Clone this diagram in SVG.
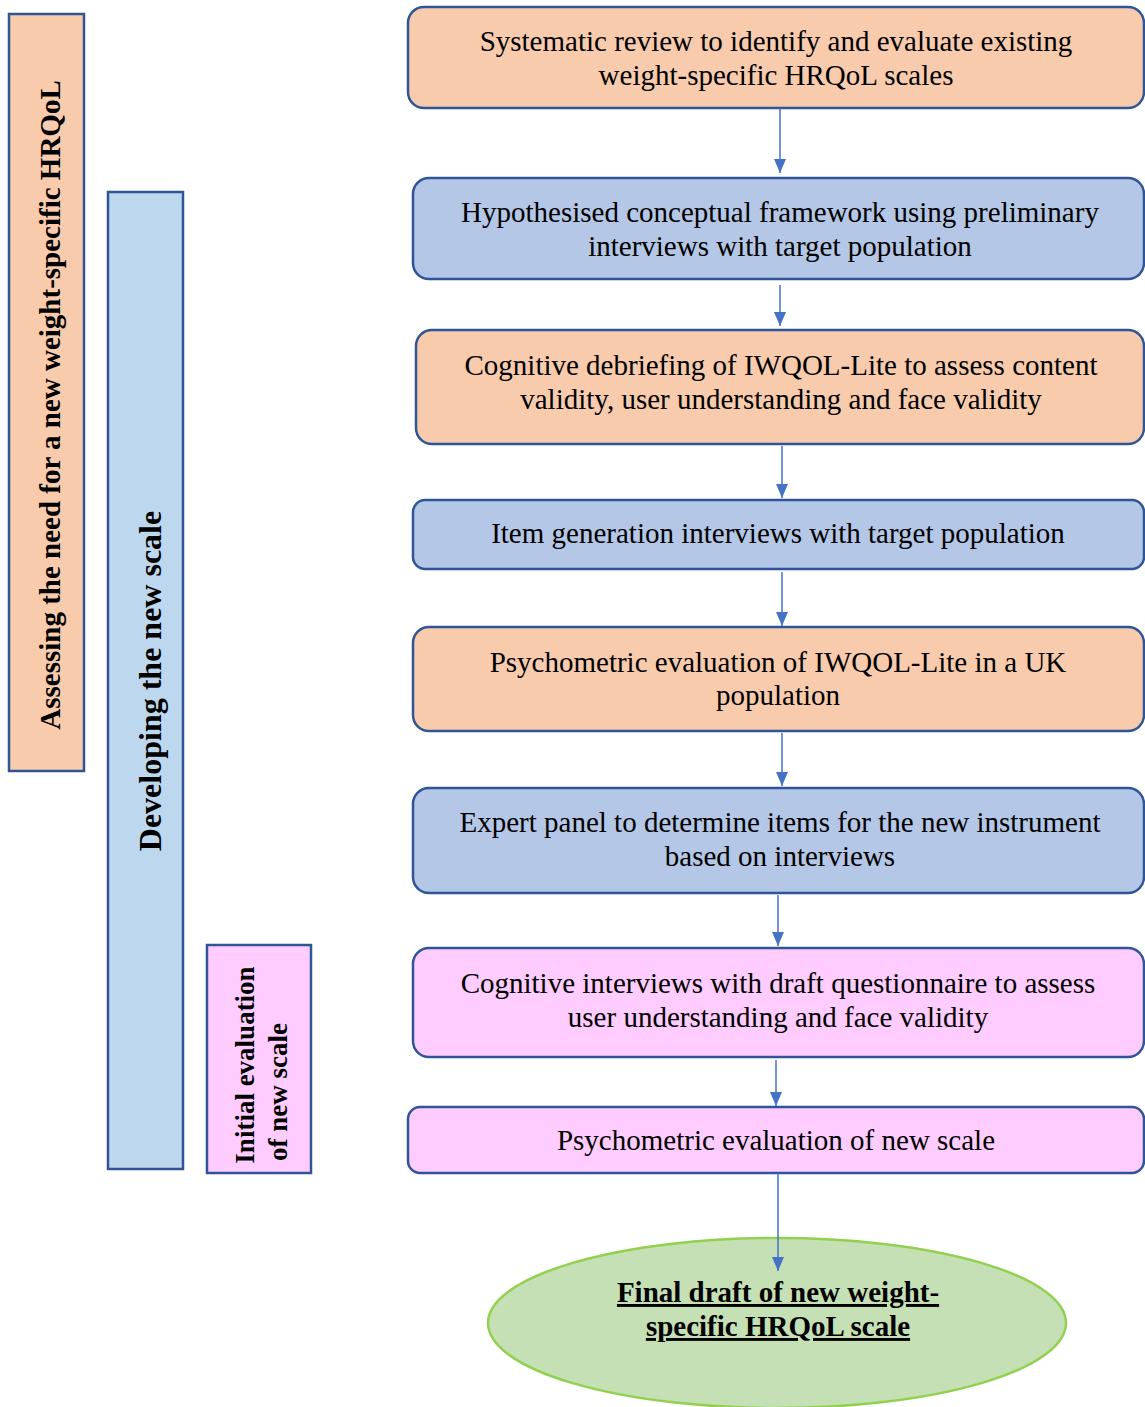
<svg xmlns="http://www.w3.org/2000/svg" width="1145" height="1407" viewBox="0 0 1145 1407">
  <defs>
    <marker id="arrow" viewBox="0 0 14 12" refX="14" refY="6" markerWidth="14" markerHeight="12" markerUnits="userSpaceOnUse" orient="auto">
      <path d="M0,0 L14,6 L0,12 Z" fill="#4472C4"/>
    </marker>
    <style>
      .step { stroke: #2F5597; stroke-width: 2.5; }
      .orange { fill: #F8CBAD; }
      .blue { fill: #B4C7E7; }
      .pink { fill: #FFCCFF; }
      .band { stroke: #2F5597; stroke-width: 2.5; }
      .label { font-family: "Liberation Serif", "Times New Roman", serif; font-size: 29px; fill: #000; text-anchor: middle; }
      .side { font-family: "Liberation Serif", "Times New Roman", serif; font-size: 29px; font-weight: bold; fill: #000; text-anchor: middle; }
      .conn { stroke: #4472C4; stroke-width: 1.5; fill: none; marker-end: url(#arrow); }
    </style>
  </defs>

  <!-- phase bands on the left -->
  <g id="phase-assessing">
    <rect class="band" x="9" y="14" width="75" height="757" fill="#F8CBAD"/>
    <text class="side" transform="translate(60,405) rotate(-90)">Assessing the need for a new weight-specific HRQoL</text>
  </g>
  <g id="phase-developing">
    <rect class="band" x="108" y="192" width="75" height="977" fill="#BDD7EE"/>
    <text class="side" style="font-size:32px" transform="translate(161,681) rotate(-90)">Developing the new scale</text>
  </g>
  <g id="phase-initial">
    <rect class="band" x="207" y="945" width="104" height="228" fill="#FFCCFF"/>
    <text class="side" style="font-size:27px" transform="translate(254,1065) rotate(-90)">Initial evaluation</text>
    <text class="side" style="font-size:27px" transform="translate(287,1092) rotate(-90)">of new scale</text>
  </g>

  <!-- process steps -->
  <g id="step-1">
    <rect class="step orange" x="408" y="7" width="736" height="101" rx="16"/>
    <text class="label" x="776" y="51">Systematic review to identify and evaluate existing</text>
    <text class="label" x="776" y="85">weight-specific HRQoL scales</text>
  </g>
  <g id="step-2">
    <rect class="step blue" x="413" y="178" width="731" height="101" rx="16"/>
    <text class="label" x="780" y="222">Hypothesised conceptual framework using preliminary</text>
    <text class="label" x="780" y="256">interviews with target population</text>
  </g>
  <g id="step-3">
    <rect class="step orange" x="416" y="330" width="728" height="114" rx="16"/>
    <text class="label" x="781" y="375">Cognitive debriefing of IWQOL-Lite to assess content</text>
    <text class="label" x="781" y="409">validity, user understanding and face validity</text>
  </g>
  <g id="step-4">
    <rect class="step blue" x="413" y="500" width="731" height="69" rx="12"/>
    <text class="label" x="778" y="543">Item generation interviews with target population</text>
  </g>
  <g id="step-5">
    <rect class="step orange" x="413" y="627" width="731" height="104" rx="16"/>
    <text class="label" x="778" y="672">Psychometric evaluation of IWQOL-Lite in a UK</text>
    <text class="label" x="778" y="705">population</text>
  </g>
  <g id="step-6">
    <rect class="step blue" x="413" y="788" width="731" height="105" rx="16"/>
    <text class="label" x="780" y="832">Expert panel to determine items for the new instrument</text>
    <text class="label" x="780" y="866">based on interviews</text>
  </g>
  <g id="step-7">
    <rect class="step pink" x="413" y="948" width="731" height="109" rx="16"/>
    <text class="label" x="778" y="993">Cognitive interviews with draft questionnaire to assess</text>
    <text class="label" x="778" y="1027">user understanding and face validity</text>
  </g>
  <g id="step-8">
    <rect class="step pink" x="408" y="1107" width="736" height="66" rx="12"/>
    <text class="label" x="776" y="1150">Psychometric evaluation of new scale</text>
  </g>
  <g id="final-draft">
    <ellipse cx="777" cy="1323" rx="289" ry="85" fill="#C5E0B4" stroke="#92D050" stroke-width="2.5"/>
    <text class="side" x="778" y="1302" text-decoration="underline">Final draft of new weight-</text>
    <text class="side" x="778" y="1336" text-decoration="underline">specific HRQoL scale</text>
  </g>

  <!-- connectors -->
  <g id="connectors">
    <line class="conn" x1="780" y1="108" x2="780" y2="173"/>
    <line class="conn" x1="780" y1="285" x2="780" y2="326"/>
    <line class="conn" x1="782" y1="446" x2="782" y2="498"/>
    <line class="conn" x1="782" y1="572" x2="782" y2="626"/>
    <line class="conn" x1="782" y1="733" x2="782" y2="786"/>
    <line class="conn" x1="778" y1="895" x2="778" y2="946"/>
    <line class="conn" x1="776" y1="1060" x2="776" y2="1106"/>
    <line class="conn" x1="778" y1="1173" x2="778" y2="1271"/>
  </g>
</svg>
